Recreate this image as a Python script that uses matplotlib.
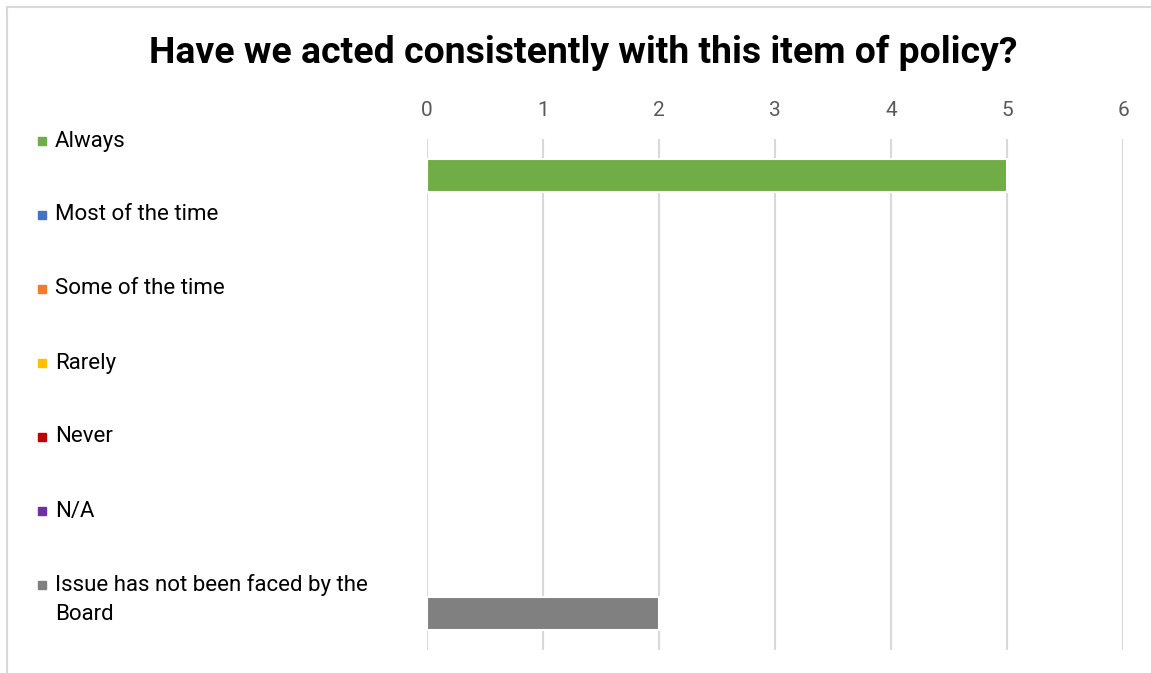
import matplotlib.pyplot as plt
from matplotlib.lines import Line2D

# values
categories = ['Always', 'Most of the time', 'Some of the time', 'Rarely',
              'Never', 'N/A', 'Issue has not been faced by the\nBoard']
counts = [5, 0, 0, 0, 0, 0, 2]
colors = ['#70AD47', '#4472C4', '#ED7D31', '#FFC000',
          '#C00000', '#7030A0', '#808080']
x_ticks = [0, 1, 2, 3, 4, 5, 6]

plt.rcParams['font.family'] = ['Roboto', 'DejaVu Sans']

W, H = 1151, 673
fig = plt.figure(figsize=(W / 100, H / 100), dpi=100)

# plot area in pixel terms of the original picture
left, right, top, bottom = 427, 1123, 139, 650
ax = fig.add_axes([left / W, 1 - bottom / H, (right - left) / W, (bottom - top) / H])

ypos = list(range(len(categories)))
ax.barh(ypos, counts, height=0.44, color=colors, edgecolor='white',
        linewidth=[1.5 if v else 0 for v in counts], zorder=3)

ax.set_xlim(0, 6)
ax.set_ylim(len(categories) - 0.5, -0.5)
ax.set_xticks(x_ticks)
ax.xaxis.tick_top()
ax.tick_params(axis='x', length=0, pad=14, labelsize=15, labelcolor='#595959')
ax.set_yticks([])
ax.grid(axis='x', color='#D9D9D9', linewidth=1.5, zorder=0)
for sp in ax.spines.values():
    sp.set_visible(False)

fig.text(583 / W, 1 - 53 / H, 'Have we acted consistently with this item of policy?',
         ha='center', va='center', fontsize=26.9, fontweight='bold')

# legend, down the left side
for i, (lab, c) in enumerate(zip(categories, colors)):
    y_px = 141 + 74 * i
    fig.add_artist(Line2D([42 / W], [1 - y_px / H], marker='s', markersize=6,
                          color=c, linestyle=''))
    if '\n' in lab:
        y_px += 14.5
    fig.text(55 / W, 1 - y_px / H, lab, ha='left', va='center',
             fontsize=16, linespacing=1.55)

# chart frame (only left and top edges fall inside the picture)
fig.add_artist(Line2D([7 / W, 7 / W], [0, 1 - 7 / H], color='#D9D9D9', linewidth=1.5))
fig.add_artist(Line2D([7 / W, 1], [1 - 7 / H, 1 - 7 / H], color='#D9D9D9', linewidth=1.5))

fig.savefig('out.png', dpi=100)
